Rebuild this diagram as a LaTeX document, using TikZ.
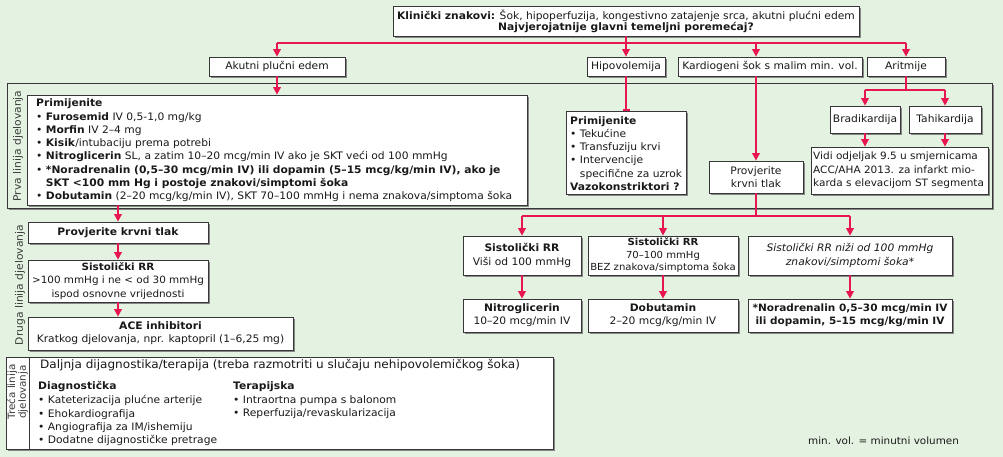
\documentclass[tikz,border=0pt]{standalone}
\usepackage{fontspec}
\setmainfont{DejaVu Sans}[FakeStretch=1.04]
\usetikzlibrary{arrows.meta,shadows}
\definecolor{bg}{RGB}{228,243,225}
\definecolor{redc}{RGB}{232,22,80}
\definecolor{bordc}{RGB}{55,55,55}
\definecolor{shc}{RGB}{135,135,135}
\definecolor{txt}{RGB}{25,25,25}
\newcommand\fs{\fontsize{10.3}{13.3}\selectfont}
\newcommand\bul{\textbullet\ }
\newcommand\mkbox[7][]{%
  \pgfmathsetmacro\bw{#5-#3}\pgfmathsetmacro\bh{#6-#4}%
  \pgfmathsetmacro\bcx{(#3+#5)/2}\pgfmathsetmacro\bcy{(#4+#6)/2}%
  \node[box, minimum width=\bw pt, minimum height=\bh pt, #1] (#2) at (\bcx,\bcy) {#7};}
\begin{document}
\begin{tikzpicture}[x=1pt,y=-1pt,
  box/.style={draw=bordc, line width=0.7pt, fill=white, inner sep=0pt, align=center,
    font=\fs, text=txt,
    drop shadow={shadow xshift=2pt, shadow yshift=-2pt, fill=shc, opacity=1}},
  txtn/.style={inner sep=0pt, align=left, font=\fs, text=txt},
  vlab/.style={inner sep=0pt, rotate=90, font=\fs, text=txt!85},
  redline/.style={draw=redc, line width=1.7pt},
  arr/.style={redline, -{Triangle[width=7.5pt,length=7.5pt]}},
  tee/.style={redline, -{Bar[width=7pt]}}]
\fill[bg] (0,0) rectangle (1003,457);
\useasboundingbox (0,0) rectangle (1003,457);

% first-line panel
\mkbox[fill=bg]{panel}{7}{83}{992}{208}{}
\node[vlab] (lab1) at (18,146) {Prva linija djelovanja};
\node[vlab] (lab2) at (20,285) {Druga linija djelovanja};

% top box
\mkbox{top}{393}{6}{859}{36}{\textbf{Klinički znakovi:} Šok, hipoperfuzija, kongestivno zatajenje srca, akutni plućni edem\\[-2pt]\textbf{Najvjerojatnije glavni temeljni poremećaj?}}

% row of causes
\mkbox{akut}{209}{57}{345}{76}{Akutni plučni edem}
\mkbox{hipo}{587}{57}{665}{76}{Hipovolemija}
\mkbox{kard}{678}{57}{862}{76}{Kardiogeni šok s malim min. vol.}
\mkbox{arit}{867}{57}{945}{76}{Aritmije}

% left big box
\mkbox{pl}{27}{95}{527}{205}{}
\node[txtn, anchor=west] (pltxt) at (36,150.5) {\textbf{Primijenite}\\
\bul\textbf{Furosemid} IV 0,5-1,0 mg/kg\\
\bul\textbf{Morfin} IV 2–4 mg\\
\bul\textbf{Kisik}/intubaciju prema potrebi\\
\bul\textbf{Nitroglicerin} SL, a zatim 10–20 mcg/min IV ako je SKT veći od 100 mmHg\\
\bul\textbf{*Noradrenalin (0,5–30 mcg/min IV) ili dopamin (5–15 mcg/kg/min IV), ako je}\\
\phantom{\bul}\textbf{SKT <100 mm Hg i postoje znakovi/simptomi šoka}\\
\bul\textbf{Dobutamin} (2–20 mcg/kg/min IV), SKT 70–100 mmHg i nema znakova/simptoma šoka};

% hypovolemia box
\mkbox{hbox}{566}{111}{686}{194}{}
\node[txtn, anchor=west] (hbtxt) at (570,153.5) {\textbf{Primijenite}\\
\bul Tekućine\\
\bul Transfuziju krvi\\
\bul Intervencije\\
\phantom{\bul}specifične za uzrok\\
\textbf{Vazokonstriktori ?}};

% cardiogenic
\mkbox{prov}{709}{161}{803}{193}{Provjerite\\krvni tlak}

% arrhythmia
\mkbox{brad}{830}{106}{900}{133}{Bradikardija}
\mkbox{tah}{909}{106}{981}{133}{Tahikardija}
\mkbox{vidi}{811}{147}{988}{194}{}
\node[txtn, anchor=west, font=\fontsize{10.1}{13.3}\selectfont] (vtxt) at (813,170.5) {Vidi odjeljak 9.5 u smjernicama\\ACC/AHA 2013. za infarkt mio-\\karda s elevacijom ST segmenta};

% second line, right
\mkbox{r1}{463}{236}{581}{275}{\textbf{Sistolički RR}\\Viši od 100 mmHg}
\mkbox[font=\fontsize{9.7}{12.6}\selectfont]{r2}{588}{236}{738}{275}{\textbf{Sistolički RR}\\70–100 mmHg\\BEZ znakova/simptoma šoka}
\mkbox{r3}{748}{236}{952}{275}{\textit{Sistolički RR niži od 100 mmHg}\\\textit{znakovi/simptomi šoka*}}
\mkbox{s1}{463}{299}{581}{332}{\textbf{Nitroglicerin}\\10–20 mcg/min IV}
\mkbox{s2}{588}{299}{738}{332}{\textbf{Dobutamin}\\2–20 mcg/kg/min IV}
\mkbox[font=\fontsize{10.1}{13.3}\selectfont]{s3}{748}{299}{952}{332}{\textbf{*Noradrenalin 0,5–30 mcg/min IV}\\\textbf{ili dopamin, 5–15 mcg/kg/min IV}}

% second line, left
\mkbox{lp}{28}{222}{208}{243}{\textbf{Provjerite krvni tlak}}
\mkbox[font=\fontsize{10}{13.3}\selectfont]{ls}{28}{260}{208}{302}{\textbf{Sistolički RR}\\>100 mmHg i ne < od 30 mmHg\\ispod osnovne vrijednosti}
\mkbox{lace}{28}{317}{293}{350}{\textbf{ACE inhibitori}\\Kratkog djelovanja, npr. kaptopril (1–6,25 mg)}

% third line
\mkbox{p3}{6}{357}{553}{449}{}
\draw[bordc, line width=0.7pt] (p3.north west -| 29,0) -- (p3.south west -| 29,0);
\node[vlab, align=center, font=\fontsize{10}{9.5}\selectfont] (lab3) at (17.5,392) {Treća linija\\djelovanja};
\node[txtn, anchor=west, font=\fontsize{11.6}{13}\selectfont] (p3t) at (40,365) {Daljnja dijagnostika/terapija (treba razmotriti u slučaju nehipovolemičkog šoka)};
\node[txtn, anchor=north west] (p3a) at (38,381) {\textbf{Diagnostička}\\[1pt]
\bul Kateterizacija plućne arterije\\
\bul Ehokardiografija\\
\bul Angiografija za IM/ishemiju\\
\bul Dodatne dijagnostičke pretrage};
\node[txtn, anchor=north west] (p3b) at (233,381) {\textbf{Terapijska}\\[1pt]
\bul Intraortna pumpa s balonom\\
\bul Reperfuzija/revaskularizacija};

\node[txtn, anchor=west, font=\fontsize{10}{11}\selectfont] (note) at (808,441) {min. vol. = minutni volumen};

% connectors
\coordinate (j1) at (626,43);
\coordinate (j2) at (906,90);
\coordinate (j3) at (756,216);
\draw[redline] (top.south) -- (top.south |- j1);
\draw[redline] (akut.north |- j1) -- (arit.north |- j1);
\draw[arr] (akut.north |- j1) -- (akut.north);
\draw[arr] (hipo.north |- j1) -- (hipo.north);
\draw[arr] (prov.north |- j1) -- (prov.north |- kard.north);
\draw[arr] (arit.north |- j1) -- (arit.north);
\draw[arr] (akut.south) -- (akut.south |- pl.north);
\draw[tee] (hipo.south) -- (hipo.south |- hbox.north);
\draw[arr] (prov.north |- kard.south) -- (prov.north);
\draw[redline] (arit.south) -- (arit.south |- j2);
\draw[redline] (brad.north |- j2) -- (tah.north |- j2);
\draw[arr] (brad.north |- j2) -- (brad.north);
\draw[arr] (tah.north |- j2) -- (tah.north);
\draw[arr] (brad.south) -- (brad.south |- vidi.north);
\draw[arr] (tah.south) -- (tah.south |- vidi.north);
\draw[redline] (prov.south) -- (prov.south |- j3);
\draw[redline] (r1.north |- j3) -- (r3.north |- j3);
\draw[arr] (r1.north |- j3) -- (r1.north);
\draw[arr] (r2.north |- j3) -- (r2.north);
\draw[arr] (r3.north |- j3) -- (r3.north);
\draw[arr] (r1.south) -- (s1.north);
\draw[arr] (r2.south) -- (s2.north);
\draw[arr] (r3.south) -- (s3.north);
\draw[arr] (lp.north |- pl.south) -- (lp.north);
\draw[arr] (lp.south) -- (ls.north);
\draw[arr] (ls.south) -- (ls.south |- lace.north);
\end{tikzpicture}
\end{document}
